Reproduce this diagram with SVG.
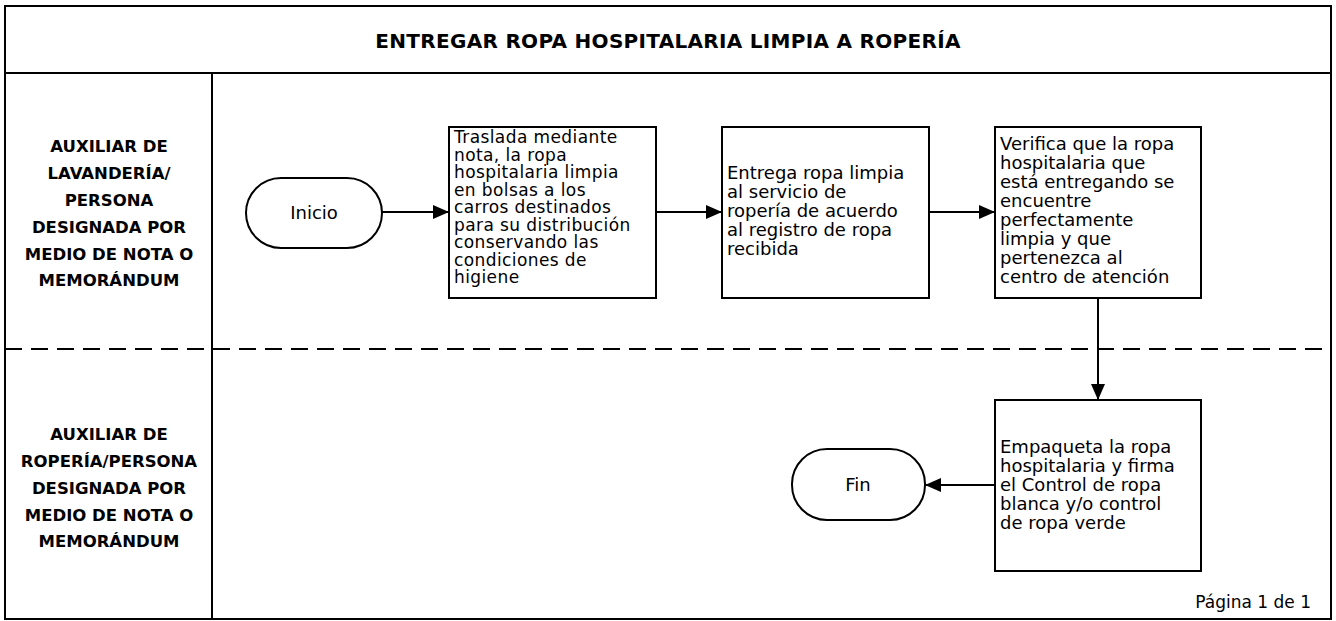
<svg xmlns="http://www.w3.org/2000/svg" width="1336" height="621" viewBox="0 0 1336 621">
<defs>
<marker id="arr" viewBox="0 0 16 14" refX="16" refY="7" markerWidth="16" markerHeight="14" markerUnits="userSpaceOnUse" orient="auto">
<path d="M0,0 L16,7 L0,14 z" fill="#000"/>
</marker>
<style>
.frame{fill:#fff;stroke:#000;stroke-width:2}
.line{stroke:#000;stroke-width:2;fill:none}
.dash{stroke:#000;stroke-width:2;stroke-dasharray:17 9;fill:none}
.box{fill:#fff;stroke:#000;stroke-width:2}
.conn{stroke:#000;stroke-width:2;fill:none;marker-end:url(#arr)}
.title{font-family:"DejaVu Sans","Liberation Sans",sans-serif;font-weight:bold;font-size:20px;letter-spacing:0.3px;text-anchor:middle}
.lane{font-family:"DejaVu Sans","Liberation Sans",sans-serif;font-weight:bold;font-size:16.5px;text-anchor:middle}
.t{font-family:"DejaVu Sans","Liberation Sans",sans-serif;font-size:18px}
.s{font-size:17px;letter-spacing:0.4px}
.c{text-anchor:middle}
</style>
</defs>
<rect width="1336" height="621" fill="#fff"/>
<g id="frame">
<rect class="frame" x="5" y="6" width="1326" height="613"/>
<line class="line" x1="5" y1="73" x2="1331" y2="73"/>
<line class="line" x1="212" y1="73" x2="212" y2="619"/>
<line class="dash" x1="5" y1="349" x2="1331" y2="349"/>
<text class="title" x="668" y="48">ENTREGAR ROPA HOSPITALARIA LIMPIA A ROPERÍA</text>
<text class="t" x="1311" y="608" text-anchor="end" style="font-size:17px">Página 1 de 1</text>
</g>
<g id="lane1">
<text class="lane" x="109" y="152">AUXILIAR DE</text>
<text class="lane" x="109" y="179">LAVANDERÍA/</text>
<text class="lane" x="109" y="206">PERSONA</text>
<text class="lane" x="109" y="233">DESIGNADA POR</text>
<text class="lane" x="109" y="260">MEDIO DE NOTA O</text>
<text class="lane" x="109" y="286">MEMORÁNDUM</text>
</g>
<g id="lane2">
<text class="lane" x="109" y="440">AUXILIAR DE</text>
<text class="lane" x="109" y="467">ROPERÍA/PERSONA</text>
<text class="lane" x="109" y="494">DESIGNADA POR</text>
<text class="lane" x="109" y="521">MEDIO DE NOTA O</text>
<text class="lane" x="109" y="547">MEMORÁNDUM</text>
</g>
<g id="connectors">
<line class="conn" x1="382" y1="212" x2="449" y2="212"/>
<line class="conn" x1="656" y1="212" x2="722" y2="212"/>
<line class="conn" x1="929" y1="212" x2="995" y2="212"/>
<line class="conn" x1="1098" y1="298" x2="1098" y2="400"/>
<line class="conn" x1="995" y1="485" x2="925" y2="485"/>
</g>
<g id="inicio">
<rect class="box" x="246" y="178" width="136" height="70" rx="35"/>
<text class="t c" x="314" y="219">Inicio</text>
</g>
<g id="traslada">
<rect class="box" x="449" y="127" width="207" height="171"/>
<text class="t s" x="454" y="143">Traslada mediante</text>
<text class="t s" x="454" y="160.5">nota, la ropa</text>
<text class="t s" x="454" y="178">hospitalaria limpia</text>
<text class="t s" x="454" y="195.5">en bolsas a los</text>
<text class="t s" x="454" y="213">carros destinados</text>
<text class="t s" x="454" y="230.5">para su distribución</text>
<text class="t s" x="454" y="248">conservando las</text>
<text class="t s" x="454" y="265.5">condiciones de</text>
<text class="t s" x="454" y="283">higiene</text>
</g>
<g id="entrega">
<rect class="box" x="722" y="127" width="207" height="171"/>
<text class="t" x="727" y="179">Entrega ropa limpia</text>
<text class="t" x="727" y="198">al servicio de</text>
<text class="t" x="727" y="217">ropería de acuerdo</text>
<text class="t" x="727" y="236">al registro de ropa</text>
<text class="t" x="727" y="255">recibida</text>
</g>
<g id="verifica">
<rect class="box" x="995" y="127" width="206" height="171"/>
<text class="t" x="1000" y="150">Verifica que la ropa</text>
<text class="t" x="1000" y="169">hospitalaria que</text>
<text class="t" x="1000" y="188">está entregando se</text>
<text class="t" x="1000" y="207">encuentre</text>
<text class="t" x="1000" y="226">perfectamente</text>
<text class="t" x="1000" y="245">limpia y que</text>
<text class="t" x="1000" y="264">pertenezca al</text>
<text class="t" x="1000" y="283">centro de atención</text>
</g>
<g id="empaqueta">
<rect class="box" x="995" y="400" width="206" height="171"/>
<text class="t" x="1000" y="453">Empaqueta la ropa</text>
<text class="t" x="1000" y="472">hospitalaria y firma</text>
<text class="t" x="1000" y="491">el Control de ropa</text>
<text class="t" x="1000" y="510">blanca y/o control</text>
<text class="t" x="1000" y="529">de ropa verde</text>
</g>
<g id="fin">
<rect class="box" x="792" y="449" width="133" height="71" rx="35"/>
<text class="t c" x="858" y="491">Fin</text>
</g>
</svg>
